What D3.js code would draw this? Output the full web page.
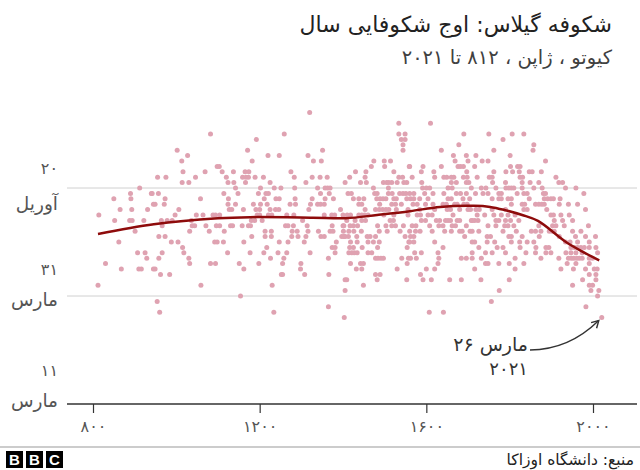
<!DOCTYPE html>
<html>
<head>
<meta charset="UTF-8">
<title>شکوفه گیلاس</title>
<script src="https://cdn.jsdelivr.net/npm/d3@7"></script>
<style>
  body { margin: 0; background: #fff; }
  text { font-family: "DejaVu Sans", sans-serif; }
</style>
</head>
<body>
<script>
// [year, day of year]
var bloomPoints = [
  [812,91],[814,104],[830,95],[850,107],[852,103],[862,99],[865,105],[868,94],[888,103],[890,108],
  [891,107],[893,105],[894,103],[901,101],[907,97],[910,94],[912,109],[916,94],[922,103],[925,97],
  [929,96],[931,105],[940,108],[945,106],[945,94],
  [942,108],[949,106],[949,94],[954,88],[955,111],[957,108],[958,100],[958,96],[960,86],[962,93],
  [964,103],[966,102],[966,97],[971,106],[973,107],[973,100],[975,111],[978,103],[984,93],[988,99],
  [990,103],[997,104],[1002,116],[1004,99],[1006,105],[1013,114],[1014,110],[1015,98],[1016,112],[1018,97],
  [1027,115],[1030,110],[1030,96],[1032,101],[1032,95],[1036,103],[1038,102],[1044,102],[1046,111],[1048,104],
  [1058,107],[1059,91],[1064,104],[1069,112],[1071,102],[1079,101],[1082,119],[1082,95],[1088,104],[1092,99],
  [1094,104],[1094,95],[1096,102],[1098,113],
  [1098,99],[1103,113],[1104,104],[1104,102],[1110,112],[1113,99],[1114,108],[1115,101],[1120,111],[1123,97],
  [1124,110],[1124,106],[1125,107],[1127,105],[1130,102],[1133,105],[1135,102],[1137,112],[1138,110],[1142,109],
  [1142,106],[1148,108],[1151,95],[1154,89],[1158,102],[1159,111],[1161,105],[1162,99],[1162,94],[1165,112],
  [1166,110],[1167,111],[1171,116],[1173,111],[1173,102],[1174,112],[1177,97],[1178,102],[1180,103],[1181,100],
  [1182,114],[1185,106],[1188,103],[1189,111],[1191,105],[1192,118],[1194,104],[1197,108],[1198,95],[1200,105],
  [1200,104],[1202,109],[1202,106],[1206,103],[1209,111],[1210,97],[1211,107],[1213,101],[1213,100],[1215,108],
  [1217,98],[1218,106],[1220,115],[1221,108],[1221,104],[1225,110],[1225,105],[1226,96],[1228,101],[1228,100],
  [1229,104],[1230,91],[1234,86],[1235,109],[1238,105],[1239,107],[1244,97],[1246,105],[1247,115],[1247,107],
  [1247,99],[1251,109],[1252,93],
  [1255,95],[1255,93],[1258,96],[1259,119],[1262,102],[1265,104],[1265,97],[1268,102],[1268,99],[1273,106],
  [1275,112],[1277,100],[1278,101],[1281,102],[1282,104],[1283,111],[1284,109],[1285,107],[1286,106],[1290,101],
  [1292,100],[1298,94],[1299,95],[1303,103],[1307,99],[1308,93],[1311,110],[1311,100],[1314,102],[1316,115],
  [1316,101],[1318,105],[1320,123],[1321,97],[1322,106],[1326,111],[1326,107],[1329,114],[1339,109],[1339,106],
  [1341,101],[1345,111],[1346,108],[1346,106],[1347,100],[1348,114],[1351,116],[1355,106],[1355,104],[1355,100],
  [1357,109],[1357,107],[1362,111],[1363,109],[1365,96],[1365,87],[1366,93],[1367,108],[1369,109],[1369,101],
  [1373,104],[1374,102],[1374,98],[1376,101],[1377,107],[1380,104],[1381,98],[1381,97],[1384,99],[1394,105],
  [1397,100],[1400,104],[1400,102],[1401,101],[1402,100],[1403,85],[1405,110],[1405,92],[1405,90],
  [1402,102],[1405,100],[1409,103],[1409,92],[1410,104],[1412,108],[1413,100],[1414,101],[1414,97],[1416,111],
  [1416,98],[1417,102],[1418,104],[1418,99],[1418,95],[1420,108],[1421,97],[1425,107],[1425,102],[1425,98],
  [1426,101],[1427,97],[1429,103],[1430,112],[1432,94],[1433,100],[1434,99],[1434,97],[1435,102],[1438,107],
  [1438,106],[1438,104],[1442,110],[1442,95],[1444,101],[1445,106],[1445,104],[1445,103],[1445,94],[1446,98],
  [1449,95],[1449,91],[1450,107],[1452,104],[1453,111],[1453,105],[1454,103],[1455,112],[1456,110],[1458,100],
  [1460,104],[1460,99],[1460,97],[1465,100],[1468,113],[1469,97],[1473,109],[1473,99],[1474,114],[1476,108],
  [1478,105],[1478,100],[1478,96],[1478,93],[1481,107],[1482,108],[1482,92],[1483,102],[1483,98],[1484,96],
  [1487,105],[1487,101],[1487,99],[1488,106],[1489,107],[1489,93],[1491,96],[1495,105],[1496,107],[1497,110],
  [1497,96],[1498,104],[1499,114],[1500,113],[1503,107],[1503,105],[1503,102],[1505,110],[1506,101],[1509,109],
  [1509,108],[1510,110],[1510,105],[1513,103],[1514,114],[1517,110],[1517,106],[1517,102],[1518,108],[1521,103],
  [1522,112],[1522,107],[1522,104],[1526,106],[1526,102],[1528,107],[1528,105],[1530,110],[1530,94],[1534,121],
  [1534,119],[1534,111],[1536,108],[1537,101],[1540,118],[1540,106],[1541,96],[1543,111],[1544,117],[1544,116],
  [1544,108],[1545,102],[1546,110],[1549,119],[1549,118],[1549,100],[1551,108],[1553,110],[1553,107],[1553,92],
  [1554,98],[1554,95],[1556,105],[1557,96],[1558,99],[1559,113],
  [1556,104],[1560,113],[1560,108],[1560,101],[1560,99],[1562,107],[1562,100],[1562,96],[1566,111],[1566,102],
  [1568,106],[1570,108],[1570,107],[1570,100],[1570,99],[1572,97],[1574,101],[1575,102],[1576,96],[1578,106],
  [1578,104],[1584,107],[1584,105],[1585,101],[1586,104],[1586,93],[1588,112],[1588,103],[1588,97],[1589,110],
  [1591,109],[1592,113],[1592,92],[1596,108],[1598,106],[1598,103],[1600,109],[1600,94],[1604,107],[1604,104],
  [1607,86],[1608,109],[1608,102],[1610,121],[1612,92],[1614,104],[1614,101],[1616,108],[1616,106],[1618,112],
  [1620,111],[1620,105],[1620,99],[1620,94],[1624,103],[1628,97],[1628,95],[1630,102],[1630,96],[1632,103],
  [1636,116],[1636,113],[1640,106],[1640,102],[1640,98],[1641,86],[1642,111],[1642,108],[1644,101],[1646,103],
  [1648,106],[1649,111],[1650,105],[1652,109],[1652,107],[1652,103],[1656,92],[1658,105],[1658,103],[1660,111],
  [1660,110],[1660,107],[1660,101],[1662,109],[1662,102],[1664,104],[1665,115],[1666,111],[1668,106],[1669,114],
  [1670,102],[1672,110],[1672,108],[1674,106],[1674,103],[1676,113],[1678,117],[1680,105],[1680,103],[1680,101],
  [1682,113],[1682,108],[1684,96],[1684,92],[1686,101],[1688,107],[1689,113],[1689,111],[1690,119],[1690,106],
  [1692,100],[1696,115],[1696,110],[1696,108],[1696,102],[1696,96],[1697,112],[1698,111],[1698,106],[1700,114],
  [1700,105],[1702,110],[1704,107],[1705,101],[1706,105],[1708,109],[1708,103],[1710,99],[1710,97],
  [1710,103],[1710,101],[1710,96],[1716,113],[1716,103],[1716,99],[1716,94],[1718,108],[1719,115],[1719,105],
  [1722,111],[1722,104],[1724,103],[1726,101],[1726,98],[1727,105],[1731,92],[1732,109],[1732,96],[1734,114],
  [1736,108],[1740,104],[1742,97],[1742,95],[1743,109],[1746,100],[1746,99],[1748,114],[1748,108],[1748,102],
  [1748,95],[1750,119],[1751,111],[1754,100],[1756,88],[1758,111],[1758,107],[1758,105],[1758,97],[1759,110],
  [1762,116],[1762,112],[1762,104],[1764,99],[1767,109],[1767,103],[1767,102],[1770,98],[1774,108],[1774,107],
  [1774,103],[1774,95],[1775,90],[1780,108],[1780,107],[1780,104],[1784,118],[1784,101],[1784,98],[1788,102],
  [1790,110],[1790,105],[1790,103],[1790,97],[1791,112],[1791,109],[1796,107],[1796,104],[1796,102],[1798,109],
  [1798,100],[1799,95],[1799,92],[1801,115],[1802,113],[1802,103],[1804,109],[1804,107],[1804,106],[1804,100],
  [1804,99],[1806,119],[1807,112],[1810,109],[1810,102],[1813,104],[1813,96],[1813,94],[1816,101],[1818,108],
  [1819,113],[1822,103],[1823,112],[1824,99],[1825,113],[1825,111],[1825,98],[1830,110],[1830,109],[1830,106],
  [1830,100],[1831,111],[1834,119],[1834,108],[1834,105],[1834,95],[1836,106],[1839,97],[1842,108],[1842,105],
  [1842,99],[1847,112],[1847,107],[1849,110],[1852,101],[1854,112],[1856,116],[1858,117],[1858,109],[1858,99],
  [1862,106],[1862,101],[1862,97],
  [1863,98],[1870,110],[1870,106],[1870,102],[1871,100],[1875,101],[1875,96],[1876,112],[1877,106],[1878,109],
  [1881,108],[1883,107],[1883,106],[1886,114],[1886,108],[1887,98],[1887,97],[1889,105],[1891,107],[1894,98],
  [1895,101],[1899,107],[1899,104],[1899,97],[1902,101],[1903,102],[1905,107],[1905,104],[1907,103],[1907,101],
  [1911,111],[1911,102],[1918,110],[1918,96],[1919,106],[1919,100],[1921,107],[1923,104],[1923,94],[1927,110],
  [1927,103],[1931,102],[1934,109],[1934,99],[1935,97],[1938,95],[1941,106],[1941,96],[1943,104],[1945,99],
  [1947,98],[1947,97],[1948,96],[1951,103],[1951,101],[1951,91],[1953,94],[1954,96],[1955,98],[1958,100],
  [1959,109],[1959,97],[1959,95],[1961,96],[1963,106],[1963,99],[1963,98],[1967,96],[1971,101],[1971,98],
  [1974,97],[1974,96],[1975,92],[1978,108],[1979,98],[1982,105],[1982,100],[1982,94],[1983,87],[1989,102],
  [1991,99],[1991,98],[1991,96],[1991,95],[1991,93],[1991,91],[1995,90],[1999,96],[1999,91],[2003,94],
  [2006,100],[2007,98],[2007,93],[2007,92],[2010,94],[2011,97],[2011,89],[2014,90],[2021,85]
];

// smoothed trend, [year, day of year]
var trendPoints = [
  [812,100.5],[946,102.3],[1100,103.4],[1177,103.6],[1328,103.5],[1407,103.4],[1482,104.0],
  [1561,104.7],[1633,105.5],[1714,105.7],[1753,105.5],[1789,104.9],[1830,104.0],[1868,102.9],
  [1935,99.0],[1980,97.0],[2015,95.6]
];

var xTicks = [800, 1200, 1600, 2000];
var xTickLabels = ["۸۰۰", "۱۲۰۰", "۱۶۰۰", "۲۰۰۰"];
var yTicks = [109, 89, 69];
var yTickDays = ["۲۰", "۳۱", "۱۱"];
var yTickMonths = ["آوریل", "مارس", "مارس"];

var W = 640, H = 470;
var svg = d3.select("body").append("svg").attr("width", W).attr("height", H);

var x = d3.scaleLinear().domain([800, 2000]).range([93, 593]);
var y = d3.scaleLinear().domain([69, 109]).range([404, 188]);

// title
svg.append("text").attr("x", 612).attr("y", 32).attr("text-anchor", "end")
  .style("font-size", "22px").style("fill", "#222")
  .text("شکوفه گیلاس: اوج شکوفایی سال");
svg.append("text").attr("x", 612).attr("y", 64).attr("text-anchor", "end")
  .style("font-size", "19.5px").style("fill", "#404040")
  .text("کیوتو ، ژاپن ، ۸۱۲ تا ۲۰۲۱");

// grid lines
svg.selectAll("line.grid").data(yTicks.slice(0, 2)).enter().append("line")
  .attr("class", "grid")
  .attr("x1", 67).attr("x2", 637)
  .attr("y1", function(d){ return y(d); }).attr("y2", function(d){ return y(d); })
  .style("stroke", "#d0d0d0").style("stroke-width", 1);

// y labels (two lines)
var numOff = [-14, -21, -28], monOff = [22, 10, 3];
yTicks.forEach(function(d, i){
  svg.append("text").attr("x", 58).attr("y", y(d) + numOff[i]).attr("text-anchor", "end")
    .style("font-size", "16px").style("fill", "#555").text(yTickDays[i]);
  svg.append("text").attr("x", 58).attr("y", y(d) + monOff[i]).attr("text-anchor", "end")
    .style("font-size", "18.5px").style("fill", "#555").text(yTickMonths[i]);
});

// x axis
var xAxis = d3.axisBottom(x).tickValues(xTicks).tickSize(9).tickPadding(8)
  .tickFormat(function(d, i){ return xTickLabels[i]; });
var gx = svg.append("g").attr("transform", "translate(0," + y(69) + ")").call(xAxis);
gx.select(".domain").remove();
gx.selectAll(".tick line").style("stroke", "#333").style("stroke-width", 1.2);
gx.selectAll(".tick text").style("font-size", "16px").style("fill", "#555")
  .style("font-family", "DejaVu Sans, sans-serif");
svg.append("line").attr("x1", 67).attr("x2", 637).attr("y1", y(69)).attr("y2", y(69))
  .style("stroke", "#333").style("stroke-width", 1.5);

// dots
svg.append("g").selectAll("circle").data(bloomPoints).enter().append("circle")
  .attr("cx", function(d){ return x(d[0]); })
  .attr("cy", function(d){ return y(d[1]); })
  .attr("r", 2.5)
  .style("fill", "#dfa2b1");

// trend
var line = d3.line()
  .x(function(d){ return x(d[0]); })
  .y(function(d){ return y(d[1]); })
  .curve(d3.curveCatmullRom);
svg.append("path").datum(trendPoints).attr("d", line)
  .style("fill", "none").style("stroke", "#8e0b0b").style("stroke-width", 2.5);

// annotation
svg.append("defs").append("marker").attr("id", "arr")
  .attr("viewBox", "0 0 10 10").attr("refX", 8).attr("refY", 5)
  .attr("markerWidth", 7).attr("markerHeight", 7).attr("orient", "auto")
  .append("path").attr("d", "M1,1 L8,5 L1,9").style("fill", "none")
  .style("stroke", "#333").style("stroke-width", 1.5);
var last = bloomPoints[bloomPoints.length - 1];
var ax = x(last[0]) - 3, ay = y(last[1]) + 3;
svg.append("path")
  .attr("d", "M530,350 Q" + (ax - 30) + ",350 " + ax + "," + ay)
  .style("fill", "none").style("stroke", "#333").style("stroke-width", 1.4)
  .attr("marker-end", "url(#arr)");
svg.append("text").attr("x", 528).attr("y", 351).attr("text-anchor", "end")
  .style("font-size", "19px").style("fill", "#333").text("۲۶ مارس");
svg.append("text").attr("x", 528).attr("y", 375).attr("text-anchor", "end")
  .style("font-size", "18px").style("fill", "#333").text("۲۰۲۱");

// footer
svg.append("line").attr("x1", 0).attr("x2", W).attr("y1", 447).attr("y2", 447)
  .style("stroke", "#999").style("stroke-width", 1);
["B", "B", "C"].forEach(function(c, i){
  svg.append("rect").attr("x", 6 + i * 20).attr("y", 451).attr("width", 17).attr("height", 17)
    .style("fill", "#000");
  svg.append("text").attr("x", 6 + i * 20 + 8.5).attr("y", 465).attr("text-anchor", "middle")
    .style("font-family", "Liberation Sans, Arial, sans-serif").style("font-weight", "bold")
    .style("font-size", "15px").style("fill", "#fff").text(c);
});
svg.append("text").attr("x", 634).attr("y", 465).attr("text-anchor", "end")
  .style("font-size", "15.5px").style("fill", "#222").text("منبع: دانشگاه اوزاکا");
</script>
</body>
</html>
